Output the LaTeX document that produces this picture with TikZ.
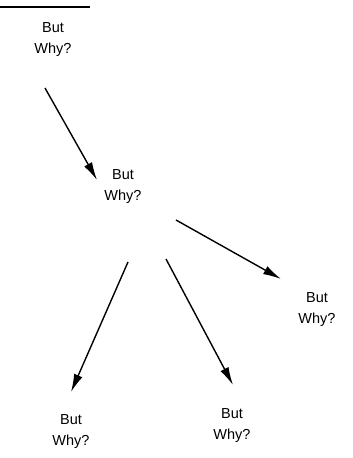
\documentclass[tikz,border=0pt]{standalone}
\usepackage{fontspec}
\setmainfont{Liberation Sans}
\usetikzlibrary{arrows.meta}
\begin{document}
\begin{tikzpicture}[x=1pt,y=-1pt,
  why/.style={align=center,font=\fontsize{14.5}{21}\selectfont,inner sep=0pt},
  arr/.style={line width=1.4pt,-{Latex[length=18pt,width=9pt]}}]
\useasboundingbox (0,0) rectangle (353,458);
\draw[line width=2.2pt] (0,7) -- (90,7);
\node[why] (n1) at (53,40) {But\\Why?};
\node[why] (n2) at (123,187) {But\\Why?};
\node[why] (n3) at (317,310) {But\\Why?};
\node[why] (n4) at (71,432) {But\\Why?};
\node[why] (n5) at (232,426) {But\\Why?};
\coordinate (a1s) at (45,88); \coordinate (a1e) at (97,180);
\coordinate (a2s) at (176,220); \coordinate (a2e) at (281,279);
\coordinate (a3s) at (128,262); \coordinate (a3e) at (71,392);
\coordinate (a4s) at (166,259); \coordinate (a4e) at (233,385);
\draw[arr] (a1s) -- (a1e);
\draw[arr] (a2s) -- (a2e);
\draw[arr] (a3s) -- (a3e);
\draw[arr] (a4s) -- (a4e);
\end{tikzpicture}
\end{document}
